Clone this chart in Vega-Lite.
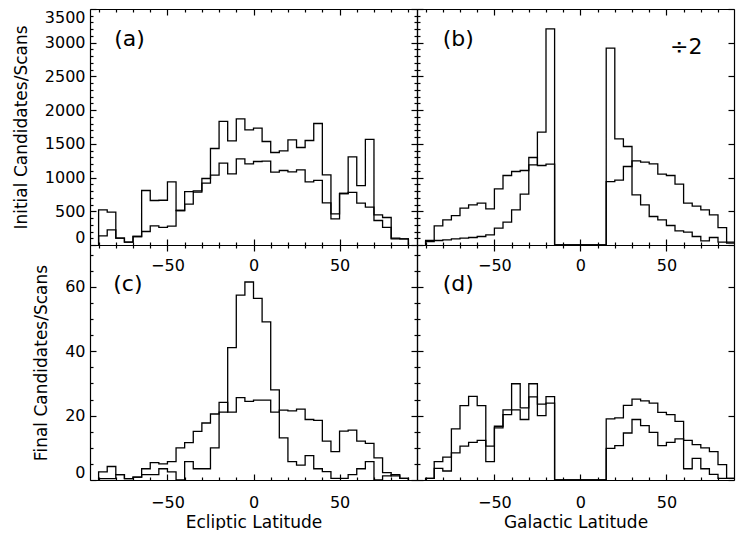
{
  "$schema": "https://vega.github.io/schema/vega-lite/v6.json",
  "background": "white",
  "padding": {"left": 12, "top": 7, "right": 0, "bottom": 0},
  "datasets": {
    "a": [
      {"lat": -90, "n": 0, "s": "1"},
      {"lat": -90, "n": 522, "s": "1"}, {"lat": -85, "n": 487, "s": "1"}, {"lat": -80, "n": 101, "s": "1"}, {"lat": -75, "n": 42, "s": "1"}, {"lat": -70, "n": 126, "s": "1"}, {"lat": -65, "n": 808, "s": "1"}, {"lat": -60, "n": 660, "s": "1"}, {"lat": -55, "n": 664, "s": "1"}, {"lat": -50, "n": 937, "s": "1"}, {"lat": -45, "n": 512, "s": "1"}, {"lat": -40, "n": 793, "s": "1"}, {"lat": -35, "n": 804, "s": "1"}, {"lat": -30, "n": 986, "s": "1"}, {"lat": -25, "n": 1431, "s": "1"}, {"lat": -20, "n": 1832, "s": "1"}, {"lat": -15, "n": 1545, "s": "1"}, {"lat": -10, "n": 1871, "s": "1"}, {"lat": -5, "n": 1708, "s": "1"}, {"lat": 0, "n": 1733, "s": "1"}, {"lat": 5, "n": 1535, "s": "1"}, {"lat": 10, "n": 1372, "s": "1"}, {"lat": 15, "n": 1397, "s": "1"}, {"lat": 20, "n": 1560, "s": "1"}, {"lat": 25, "n": 1446, "s": "1"}, {"lat": 30, "n": 1550, "s": "1"}, {"lat": 35, "n": 1802, "s": "1"}, {"lat": 40, "n": 1041, "s": "1"}, {"lat": 45, "n": 462, "s": "1"}, {"lat": 50, "n": 764, "s": "1"}, {"lat": 55, "n": 1308, "s": "1"}, {"lat": 60, "n": 882, "s": "1"}, {"lat": 65, "n": 1565, "s": "1"}, {"lat": 70, "n": 447, "s": "1"}, {"lat": 75, "n": 408, "s": "1"}, {"lat": 80, "n": 101, "s": "1"}, {"lat": 85, "n": 92, "s": "1"},
      {"lat": 90, "n": 0, "s": "1"},
      {"lat": -90, "n": 0, "s": "2"},
      {"lat": -90, "n": 136, "s": "2"}, {"lat": -85, "n": 225, "s": "2"}, {"lat": -80, "n": 101, "s": "2"}, {"lat": -75, "n": 42, "s": "2"}, {"lat": -70, "n": 126, "s": "2"}, {"lat": -65, "n": 200, "s": "2"}, {"lat": -60, "n": 284, "s": "2"}, {"lat": -55, "n": 260, "s": "2"}, {"lat": -50, "n": 279, "s": "2"}, {"lat": -45, "n": 512, "s": "2"}, {"lat": -40, "n": 605, "s": "2"}, {"lat": -35, "n": 783, "s": "2"}, {"lat": -30, "n": 917, "s": "2"}, {"lat": -25, "n": 1035, "s": "2"}, {"lat": -20, "n": 1213, "s": "2"}, {"lat": -15, "n": 1056, "s": "2"}, {"lat": -10, "n": 1278, "s": "2"}, {"lat": -5, "n": 1204, "s": "2"}, {"lat": 0, "n": 1238, "s": "2"}, {"lat": 5, "n": 1243, "s": "2"}, {"lat": 10, "n": 1080, "s": "2"}, {"lat": 15, "n": 1105, "s": "2"}, {"lat": 20, "n": 1085, "s": "2"}, {"lat": 25, "n": 1115, "s": "2"}, {"lat": 30, "n": 937, "s": "2"}, {"lat": 35, "n": 957, "s": "2"}, {"lat": 40, "n": 626, "s": "2"}, {"lat": 45, "n": 388, "s": "2"}, {"lat": 50, "n": 764, "s": "2"}, {"lat": 55, "n": 779, "s": "2"}, {"lat": 60, "n": 620, "s": "2"}, {"lat": 65, "n": 561, "s": "2"}, {"lat": 70, "n": 363, "s": "2"}, {"lat": 75, "n": 260, "s": "2"}, {"lat": 80, "n": 92, "s": "2"}, {"lat": 85, "n": 92, "s": "2"},
      {"lat": 90, "n": 0, "s": "2"}
    ],
    "b": [
      {"lat": -90, "n": 0, "s": "1"},
      {"lat": -90, "n": 67, "s": "1"}, {"lat": -85, "n": 67, "s": "1"}, {"lat": -80, "n": 77, "s": "1"}, {"lat": -75, "n": 92, "s": "1"}, {"lat": -70, "n": 101, "s": "1"}, {"lat": -65, "n": 111, "s": "1"}, {"lat": -60, "n": 126, "s": "1"}, {"lat": -55, "n": 151, "s": "1"}, {"lat": -50, "n": 250, "s": "1"}, {"lat": -45, "n": 339, "s": "1"}, {"lat": -40, "n": 522, "s": "1"}, {"lat": -35, "n": 754, "s": "1"}, {"lat": -30, "n": 1189, "s": "1"}, {"lat": -25, "n": 1673, "s": "1"}, {"lat": -20, "n": 3206, "s": "1"}, {"lat": -15, "n": 0, "s": "1"}, {"lat": -10, "n": 0, "s": "1"}, {"lat": -5, "n": 0, "s": "1"}, {"lat": 0, "n": 0, "s": "1"}, {"lat": 5, "n": 0, "s": "1"}, {"lat": 10, "n": 0, "s": "1"}, {"lat": 15, "n": 2919, "s": "1"}, {"lat": 20, "n": 1575, "s": "1"}, {"lat": 25, "n": 1461, "s": "1"}, {"lat": 30, "n": 744, "s": "1"}, {"lat": 35, "n": 596, "s": "1"}, {"lat": 40, "n": 423, "s": "1"}, {"lat": 45, "n": 373, "s": "1"}, {"lat": 50, "n": 289, "s": "1"}, {"lat": 55, "n": 210, "s": "1"}, {"lat": 60, "n": 190, "s": "1"}, {"lat": 65, "n": 126, "s": "1"}, {"lat": 70, "n": 62, "s": "1"}, {"lat": 75, "n": 111, "s": "1"}, {"lat": 80, "n": 42, "s": "1"}, {"lat": 85, "n": 27, "s": "1"},
      {"lat": 90, "n": 0, "s": "1"},
      {"lat": -90, "n": 0, "s": "2"},
      {"lat": -90, "n": 52, "s": "2"}, {"lat": -85, "n": 284, "s": "2"}, {"lat": -80, "n": 373, "s": "2"}, {"lat": -75, "n": 437, "s": "2"}, {"lat": -70, "n": 546, "s": "2"}, {"lat": -65, "n": 596, "s": "2"}, {"lat": -60, "n": 620, "s": "2"}, {"lat": -55, "n": 536, "s": "2"}, {"lat": -50, "n": 833, "s": "2"}, {"lat": -45, "n": 1031, "s": "2"}, {"lat": -40, "n": 1090, "s": "2"}, {"lat": -35, "n": 1105, "s": "2"}, {"lat": -30, "n": 1298, "s": "2"}, {"lat": -25, "n": 1179, "s": "2"}, {"lat": -20, "n": 1199, "s": "2"}, {"lat": -15, "n": 0, "s": "2"}, {"lat": -10, "n": 0, "s": "2"}, {"lat": -5, "n": 0, "s": "2"}, {"lat": 0, "n": 0, "s": "2"}, {"lat": 5, "n": 0, "s": "2"}, {"lat": 10, "n": 0, "s": "2"}, {"lat": 15, "n": 941, "s": "2"}, {"lat": 20, "n": 961, "s": "2"}, {"lat": 25, "n": 1164, "s": "2"}, {"lat": 30, "n": 1248, "s": "2"}, {"lat": 35, "n": 1229, "s": "2"}, {"lat": 40, "n": 1204, "s": "2"}, {"lat": 45, "n": 1051, "s": "2"}, {"lat": 50, "n": 1031, "s": "2"}, {"lat": 55, "n": 902, "s": "2"}, {"lat": 60, "n": 620, "s": "2"}, {"lat": 65, "n": 576, "s": "2"}, {"lat": 70, "n": 522, "s": "2"}, {"lat": 75, "n": 447, "s": "2"}, {"lat": 80, "n": 259, "s": "2"}, {"lat": 85, "n": 42, "s": "2"},
      {"lat": 90, "n": 0, "s": "2"}
    ],
    "c": [
      {"lat": -90, "n": 0, "s": "1"},
      {"lat": -90, "n": 0.4, "s": "1"}, {"lat": -85, "n": 0.4, "s": "1"}, {"lat": -80, "n": 1.7, "s": "1"}, {"lat": -75, "n": 0.4, "s": "1"}, {"lat": -70, "n": 0.9, "s": "1"}, {"lat": -65, "n": 1.7, "s": "1"}, {"lat": -60, "n": 1.7, "s": "1"}, {"lat": -55, "n": 3.5, "s": "1"}, {"lat": -50, "n": 2.5, "s": "1"}, {"lat": -45, "n": 0, "s": "1"}, {"lat": -40, "n": 5.7, "s": "1"}, {"lat": -35, "n": 3.5, "s": "1"}, {"lat": -30, "n": 3.5, "s": "1"}, {"lat": -25, "n": 10, "s": "1"}, {"lat": -20, "n": 21.1, "s": "1"}, {"lat": -15, "n": 41.1, "s": "1"}, {"lat": -10, "n": 57.4, "s": "1"}, {"lat": -5, "n": 61.5, "s": "1"}, {"lat": 0, "n": 56.4, "s": "1"}, {"lat": 5, "n": 49.1, "s": "1"}, {"lat": 10, "n": 28, "s": "1"}, {"lat": 15, "n": 13.1, "s": "1"}, {"lat": 20, "n": 5.7, "s": "1"}, {"lat": 25, "n": 4.6, "s": "1"}, {"lat": 30, "n": 7.6, "s": "1"}, {"lat": 35, "n": 3.5, "s": "1"}, {"lat": 40, "n": 2.6, "s": "1"}, {"lat": 45, "n": 0.5, "s": "1"}, {"lat": 50, "n": 0.5, "s": "1"}, {"lat": 55, "n": 1.7, "s": "1"}, {"lat": 60, "n": 3.5, "s": "1"}, {"lat": 65, "n": 5.7, "s": "1"}, {"lat": 70, "n": 0, "s": "1"}, {"lat": 75, "n": 1.3, "s": "1"}, {"lat": 80, "n": 1.7, "s": "1"}, {"lat": 85, "n": 0.5, "s": "1"},
      {"lat": 90, "n": 0, "s": "1"},
      {"lat": -90, "n": 0, "s": "2"},
      {"lat": -90, "n": 2.5, "s": "2"}, {"lat": -85, "n": 4.2, "s": "2"}, {"lat": -80, "n": 1.7, "s": "2"}, {"lat": -75, "n": 0.4, "s": "2"}, {"lat": -70, "n": 0.9, "s": "2"}, {"lat": -65, "n": 3.5, "s": "2"}, {"lat": -60, "n": 5.4, "s": "2"}, {"lat": -55, "n": 5.0, "s": "2"}, {"lat": -50, "n": 5.7, "s": "2"}, {"lat": -45, "n": 10, "s": "2"}, {"lat": -40, "n": 11.6, "s": "2"}, {"lat": -35, "n": 15.1, "s": "2"}, {"lat": -30, "n": 17.7, "s": "2"}, {"lat": -25, "n": 20.5, "s": "2"}, {"lat": -20, "n": 24.1, "s": "2"}, {"lat": -15, "n": 21.1, "s": "2"}, {"lat": -10, "n": 25.6, "s": "2"}, {"lat": -5, "n": 24.4, "s": "2"}, {"lat": 0, "n": 24.8, "s": "2"}, {"lat": 5, "n": 24.8, "s": "2"}, {"lat": 10, "n": 21.1, "s": "2"}, {"lat": 15, "n": 21.7, "s": "2"}, {"lat": 20, "n": 21.5, "s": "2"}, {"lat": 25, "n": 22.0, "s": "2"}, {"lat": 30, "n": 18.8, "s": "2"}, {"lat": 35, "n": 18.5, "s": "2"}, {"lat": 40, "n": 12.1, "s": "2"}, {"lat": 45, "n": 8.8, "s": "2"}, {"lat": 50, "n": 15.2, "s": "2"}, {"lat": 55, "n": 15.5, "s": "2"}, {"lat": 60, "n": 12.1, "s": "2"}, {"lat": 65, "n": 11.4, "s": "2"}, {"lat": 70, "n": 6.9, "s": "2"}, {"lat": 75, "n": 2.3, "s": "2"}, {"lat": 80, "n": 1.3, "s": "2"}, {"lat": 85, "n": 0.5, "s": "2"},
      {"lat": 90, "n": 0, "s": "2"}
    ],
    "d": [
      {"lat": -90, "n": 0, "s": "1"},
      {"lat": -90, "n": 0.5, "s": "1"}, {"lat": -85, "n": 5.7, "s": "1"}, {"lat": -80, "n": 7.1, "s": "1"}, {"lat": -75, "n": 15.9, "s": "1"}, {"lat": -70, "n": 23.1, "s": "1"}, {"lat": -65, "n": 26.0, "s": "1"}, {"lat": -60, "n": 23.1, "s": "1"}, {"lat": -55, "n": 5.7, "s": "1"}, {"lat": -50, "n": 16.2, "s": "1"}, {"lat": -45, "n": 21.8, "s": "1"}, {"lat": -40, "n": 29.9, "s": "1"}, {"lat": -35, "n": 22.4, "s": "1"}, {"lat": -30, "n": 29.9, "s": "1"}, {"lat": -25, "n": 20.0, "s": "1"}, {"lat": -20, "n": 25.9, "s": "1"}, {"lat": -15, "n": 0, "s": "1"}, {"lat": -10, "n": 0, "s": "1"}, {"lat": -5, "n": 0, "s": "1"}, {"lat": 0, "n": 0, "s": "1"}, {"lat": 5, "n": 0, "s": "1"}, {"lat": 10, "n": 0, "s": "1"}, {"lat": 15, "n": 19.0, "s": "1"}, {"lat": 20, "n": 19.3, "s": "1"}, {"lat": 25, "n": 23.2, "s": "1"}, {"lat": 30, "n": 25.1, "s": "1"}, {"lat": 35, "n": 24.6, "s": "1"}, {"lat": 40, "n": 23.9, "s": "1"}, {"lat": 45, "n": 21.0, "s": "1"}, {"lat": 50, "n": 20.3, "s": "1"}, {"lat": 55, "n": 18.2, "s": "1"}, {"lat": 60, "n": 3.5, "s": "1"}, {"lat": 65, "n": 6.7, "s": "1"}, {"lat": 70, "n": 3.5, "s": "1"}, {"lat": 75, "n": 1.75, "s": "1"}, {"lat": 80, "n": 0.5, "s": "1"}, {"lat": 85, "n": 0.5, "s": "1"},
      {"lat": 90, "n": 0, "s": "1"},
      {"lat": -90, "n": 0, "s": "2"},
      {"lat": -90, "n": 0.5, "s": "2"}, {"lat": -85, "n": 3.6, "s": "2"}, {"lat": -80, "n": 2.8, "s": "2"}, {"lat": -75, "n": 8.4, "s": "2"}, {"lat": -70, "n": 10.5, "s": "2"}, {"lat": -65, "n": 11.7, "s": "2"}, {"lat": -60, "n": 12.3, "s": "2"}, {"lat": -55, "n": 10.5, "s": "2"}, {"lat": -50, "n": 16.7, "s": "2"}, {"lat": -45, "n": 20.3, "s": "2"}, {"lat": -40, "n": 21.8, "s": "2"}, {"lat": -35, "n": 18.8, "s": "2"}, {"lat": -30, "n": 25.8, "s": "2"}, {"lat": -25, "n": 23.6, "s": "2"}, {"lat": -20, "n": 23.9, "s": "2"}, {"lat": -15, "n": 0, "s": "2"}, {"lat": -10, "n": 0, "s": "2"}, {"lat": -5, "n": 0, "s": "2"}, {"lat": 0, "n": 0, "s": "2"}, {"lat": 5, "n": 0, "s": "2"}, {"lat": 10, "n": 0, "s": "2"}, {"lat": 15, "n": 9.8, "s": "2"}, {"lat": 20, "n": 10.7, "s": "2"}, {"lat": 25, "n": 14.6, "s": "2"}, {"lat": 30, "n": 18.8, "s": "2"}, {"lat": 35, "n": 16.9, "s": "2"}, {"lat": 40, "n": 14.8, "s": "2"}, {"lat": 45, "n": 10.7, "s": "2"}, {"lat": 50, "n": 11.7, "s": "2"}, {"lat": 55, "n": 12.8, "s": "2"}, {"lat": 60, "n": 12.3, "s": "2"}, {"lat": 65, "n": 11.0, "s": "2"}, {"lat": 70, "n": 10.0, "s": "2"}, {"lat": 75, "n": 8.8, "s": "2"}, {"lat": 80, "n": 4.8, "s": "2"}, {"lat": 85, "n": 0.5, "s": "2"},
      {"lat": 90, "n": 0, "s": "2"}
    ],
    "labels": [{"panel": "a"}]
  },
  "columns": 2,
  "spacing": 0,
  "bounds": "flush",
  "concat": [
    {
      "width": 327, "height": 236,
      "data": {"name": "a"},
      "resolve": {"axis": {"x": "independent", "y": "independent"}},
      "layer": [
        {
          "mark": {"type": "line", "interpolate": "step-after", "stroke": "#000", "strokeWidth": 1.3, "clip": true},
          "encoding": {
            "x": {"field": "lat", "type": "quantitative", "scale": {"domain": [-95, 95], "nice": false, "zero": false},
                  "axis": {"orient": "bottom", "values": [-90,-80,-70,-60,-50,-40,-30,-20,-10,0,10,20,30,40,50,60,70,80,90],
                           "tickSize": {"condition": {"test": "datum.value % 50 === 0", "value": -6}, "value": -3},
                           "labelExpr": "datum.value % 50 === 0 ? datum.label : ''", "labelPadding": 18, "title": null}},
            "y": {"field": "n", "type": "quantitative", "scale": {"domain": [0, 3500], "nice": false},
                  "axis": {"orient": "left", "values": [0,100,200,300,400,500,600,700,800,900,1000,1100,1200,1300,1400,1500,1600,1700,1800,1900,2000,2100,2200,2300,2400,2500,2600,2700,2800,2900,3000,3100,3200,3300,3400,3500],
                           "tickSize": {"condition": {"test": "datum.value % 500 === 0", "value": -6}, "value": -3},
                           "labelExpr": "datum.value % 500 === 0 ? datum.label : ''", "format": "d", "labelFlush": true, "labelPadding": 11,
                           "title": "Initial Candidates/Scans", "titlePadding": 14}},
            "detail": {"field": "s"}
          }
        },
        {
          "mark": {"type": "line", "interpolate": "step-after", "opacity": 0},
          "encoding": {
            "x": {"field": "lat", "type": "quantitative",
                  "axis": {"orient": "top", "values": [-90,-80,-70,-60,-50,-40,-30,-20,-10,0,10,20,30,40,50,60,70,80,90],
                           "tickSize": {"condition": {"test": "datum.value % 50 === 0", "value": -6}, "value": -3},
                           "labels": false, "title": null}},
            "y": {"field": "n", "type": "quantitative",
                  "axis": {"orient": "right", "values": [0,100,200,300,400,500,600,700,800,900,1000,1100,1200,1300,1400,1500,1600,1700,1800,1900,2000,2100,2200,2300,2400,2500,2600,2700,2800,2900,3000,3100,3200,3300,3400,3500],
                           "tickSize": {"condition": {"test": "datum.value % 500 === 0", "value": -6}, "value": -3},
                           "labels": false, "title": null}},
            "detail": {"field": "s"}
          }
        },
        {
          "data": {"name": "labels"},
          "mark": {"type": "text", "text": "(a)", "font": "DejaVu Sans", "fontSize": 22, "fontWeight": "normal", "color": "#000", "align": "center", "baseline": "middle"},
          "encoding": {
            "x": {"datum": -72, "type": "quantitative", "axis": null},
            "y": {"datum": 3050, "type": "quantitative", "axis": null}
          }
        }
      ]
    },
    {
      "width": 317, "height": 236,
      "data": {"name": "b"},
      "resolve": {"axis": {"x": "independent", "y": "independent"}},
      "layer": [
        {
          "mark": {"type": "line", "interpolate": "step-after", "stroke": "#000", "strokeWidth": 1.3, "clip": true},
          "encoding": {
            "x": {"field": "lat", "type": "quantitative", "scale": {"domain": [-95, 89.3], "nice": false, "zero": false},
                  "axis": {"orient": "bottom", "values": [-90,-80,-70,-60,-50,-40,-30,-20,-10,0,10,20,30,40,50,60,70,80],
                           "tickSize": {"condition": {"test": "datum.value % 50 === 0", "value": -6}, "value": -3},
                           "labelExpr": "datum.value % 50 === 0 ? datum.label : ''", "labelPadding": 18, "title": null}},
            "y": {"field": "n", "type": "quantitative", "scale": {"domain": [0, 3500], "nice": false},
                  "axis": {"orient": "left", "values": [0,100,200,300,400,500,600,700,800,900,1000,1100,1200,1300,1400,1500,1600,1700,1800,1900,2000,2100,2200,2300,2400,2500,2600,2700,2800,2900,3000,3100,3200,3300,3400,3500],
                           "tickSize": {"condition": {"test": "datum.value % 500 === 0", "value": -6}, "value": -3},
                           "labels": false, "title": null}},
            "detail": {"field": "s"}
          }
        },
        {
          "mark": {"type": "line", "interpolate": "step-after", "opacity": 0},
          "encoding": {
            "x": {"field": "lat", "type": "quantitative",
                  "axis": {"orient": "top", "values": [-90,-80,-70,-60,-50,-40,-30,-20,-10,0,10,20,30,40,50,60,70,80],
                           "tickSize": {"condition": {"test": "datum.value % 50 === 0", "value": -6}, "value": -3},
                           "labels": false, "title": null}},
            "y": {"field": "n", "type": "quantitative",
                  "axis": {"orient": "right", "values": [0,500,1000,1500,2000,2500,3000,3500], "tickSize": -6,
                           "labels": false, "title": null}},
            "detail": {"field": "s"}
          }
        },
        {
          "data": {"name": "labels"},
          "mark": {"type": "text", "text": "(b)", "font": "DejaVu Sans", "fontSize": 22, "fontWeight": "normal", "color": "#000", "align": "center", "baseline": "middle"},
          "encoding": {
            "x": {"datum": -71, "type": "quantitative", "axis": null},
            "y": {"datum": 3050, "type": "quantitative", "axis": null}
          }
        },
        {
          "data": {"name": "labels"},
          "mark": {"type": "text", "text": "÷2", "font": "DejaVu Sans", "fontSize": 22, "fontWeight": "normal", "color": "#000", "align": "center", "baseline": "middle"},
          "encoding": {
            "x": {"datum": 61.5, "type": "quantitative", "axis": null},
            "y": {"datum": 2940, "type": "quantitative", "axis": null}
          }
        }
      ]
    },
    {
      "width": 327, "height": 235,
      "data": {"name": "c"},
      "resolve": {"axis": {"x": "independent", "y": "independent"}},
      "layer": [
        {
          "mark": {"type": "line", "interpolate": "step-after", "stroke": "#000", "strokeWidth": 1.3, "clip": true},
          "encoding": {
            "x": {"field": "lat", "type": "quantitative", "scale": {"domain": [-95, 95], "nice": false, "zero": false},
                  "axis": {"orient": "bottom", "values": [-90,-80,-70,-60,-50,-40,-30,-20,-10,0,10,20,30,40,50,60,70,80,90],
                           "tickSize": {"condition": {"test": "datum.value % 50 === 0", "value": -6}, "value": -3},
                           "labelExpr": "datum.value % 50 === 0 ? datum.label : ''", "labelPadding": 20,
                           "title": "Ecliptic Latitude", "titlePadding": 1}},
            "y": {"field": "n", "type": "quantitative", "scale": {"domain": [0, 73], "nice": false},
                  "axis": {"orient": "left", "values": [0,5,10,15,20,25,30,35,40,45,50,55,60,65,70],
                           "tickSize": {"condition": {"test": "datum.value % 20 === 0", "value": -6}, "value": -3},
                           "labelExpr": "datum.value % 20 === 0 ? datum.label : ''", "format": "d", "labelFlush": true, "labelPadding": 11,
                           "title": "Final Candidates/Scans", "titlePadding": 14}},
            "detail": {"field": "s"}
          }
        },
        {
          "mark": {"type": "line", "interpolate": "step-after", "opacity": 0},
          "encoding": {
            "x": {"field": "lat", "type": "quantitative",
                  "axis": {"orient": "top", "values": [-90,-80,-70,-60,-50,-40,-30,-20,-10,0,10,20,30,40,50,60,70,80,90],
                           "tickSize": {"condition": {"test": "datum.value % 50 === 0", "value": -6}, "value": -3},
                           "labels": false, "title": null}},
            "y": {"field": "n", "type": "quantitative",
                  "axis": {"orient": "right", "values": [0,5,10,15,20,25,30,35,40,45,50,55,60,65,70],
                           "tickSize": {"condition": {"test": "datum.value % 20 === 0", "value": -6}, "value": -3},
                           "labels": false, "title": null}},
            "detail": {"field": "s"}
          }
        },
        {
          "data": {"name": "labels"},
          "mark": {"type": "text", "text": "(c)", "font": "DejaVu Sans", "fontSize": 22, "fontWeight": "normal", "color": "#000", "align": "center", "baseline": "middle"},
          "encoding": {
            "x": {"datum": -73, "type": "quantitative", "axis": null},
            "y": {"datum": 61, "type": "quantitative", "axis": null}
          }
        }
      ]
    },
    {
      "width": 317, "height": 235,
      "data": {"name": "d"},
      "resolve": {"axis": {"x": "independent", "y": "independent"}},
      "layer": [
        {
          "mark": {"type": "line", "interpolate": "step-after", "stroke": "#000", "strokeWidth": 1.3, "clip": true},
          "encoding": {
            "x": {"field": "lat", "type": "quantitative", "scale": {"domain": [-95, 89.3], "nice": false, "zero": false},
                  "axis": {"orient": "bottom", "values": [-90,-80,-70,-60,-50,-40,-30,-20,-10,0,10,20,30,40,50,60,70,80],
                           "tickSize": {"condition": {"test": "datum.value % 50 === 0", "value": -6}, "value": -3},
                           "labelExpr": "datum.value % 50 === 0 ? datum.label : ''", "labelPadding": 20,
                           "title": "Galactic Latitude", "titlePadding": 1}},
            "y": {"field": "n", "type": "quantitative", "scale": {"domain": [0, 73], "nice": false},
                  "axis": {"orient": "left", "values": [0,5,10,15,20,25,30,35,40,45,50,55,60,65,70],
                           "tickSize": {"condition": {"test": "datum.value % 20 === 0", "value": -6}, "value": -3},
                           "labels": false, "title": null}},
            "detail": {"field": "s"}
          }
        },
        {
          "mark": {"type": "line", "interpolate": "step-after", "opacity": 0},
          "encoding": {
            "x": {"field": "lat", "type": "quantitative",
                  "axis": {"orient": "top", "values": [-90,-80,-70,-60,-50,-40,-30,-20,-10,0,10,20,30,40,50,60,70,80],
                           "tickSize": {"condition": {"test": "datum.value % 50 === 0", "value": -6}, "value": -3},
                           "labels": false, "title": null}},
            "y": {"field": "n", "type": "quantitative",
                  "axis": {"orient": "right", "values": [0,20,40,60], "tickSize": -6,
                           "labels": false, "title": null}},
            "detail": {"field": "s"}
          }
        },
        {
          "data": {"name": "labels"},
          "mark": {"type": "text", "text": "(d)", "font": "DejaVu Sans", "fontSize": 22, "fontWeight": "normal", "color": "#000", "align": "center", "baseline": "middle"},
          "encoding": {
            "x": {"datum": -71, "type": "quantitative", "axis": null},
            "y": {"datum": 61, "type": "quantitative", "axis": null}
          }
        }
      ]
    }
  ],
  "config": {
    "view": {"stroke": null},
    "axis": {
      "grid": false,
      "domainColor": "#000", "domainWidth": 1.2,
      "tickColor": "#000", "tickWidth": 1.2,
      "labelColor": "#000", "labelFont": "DejaVu Sans", "labelFontSize": 16, "labelOverlap": false,
      "titleColor": "#000", "titleFont": "DejaVu Sans", "titleFontSize": 17, "titleFontWeight": "normal"
    }
  }
}
